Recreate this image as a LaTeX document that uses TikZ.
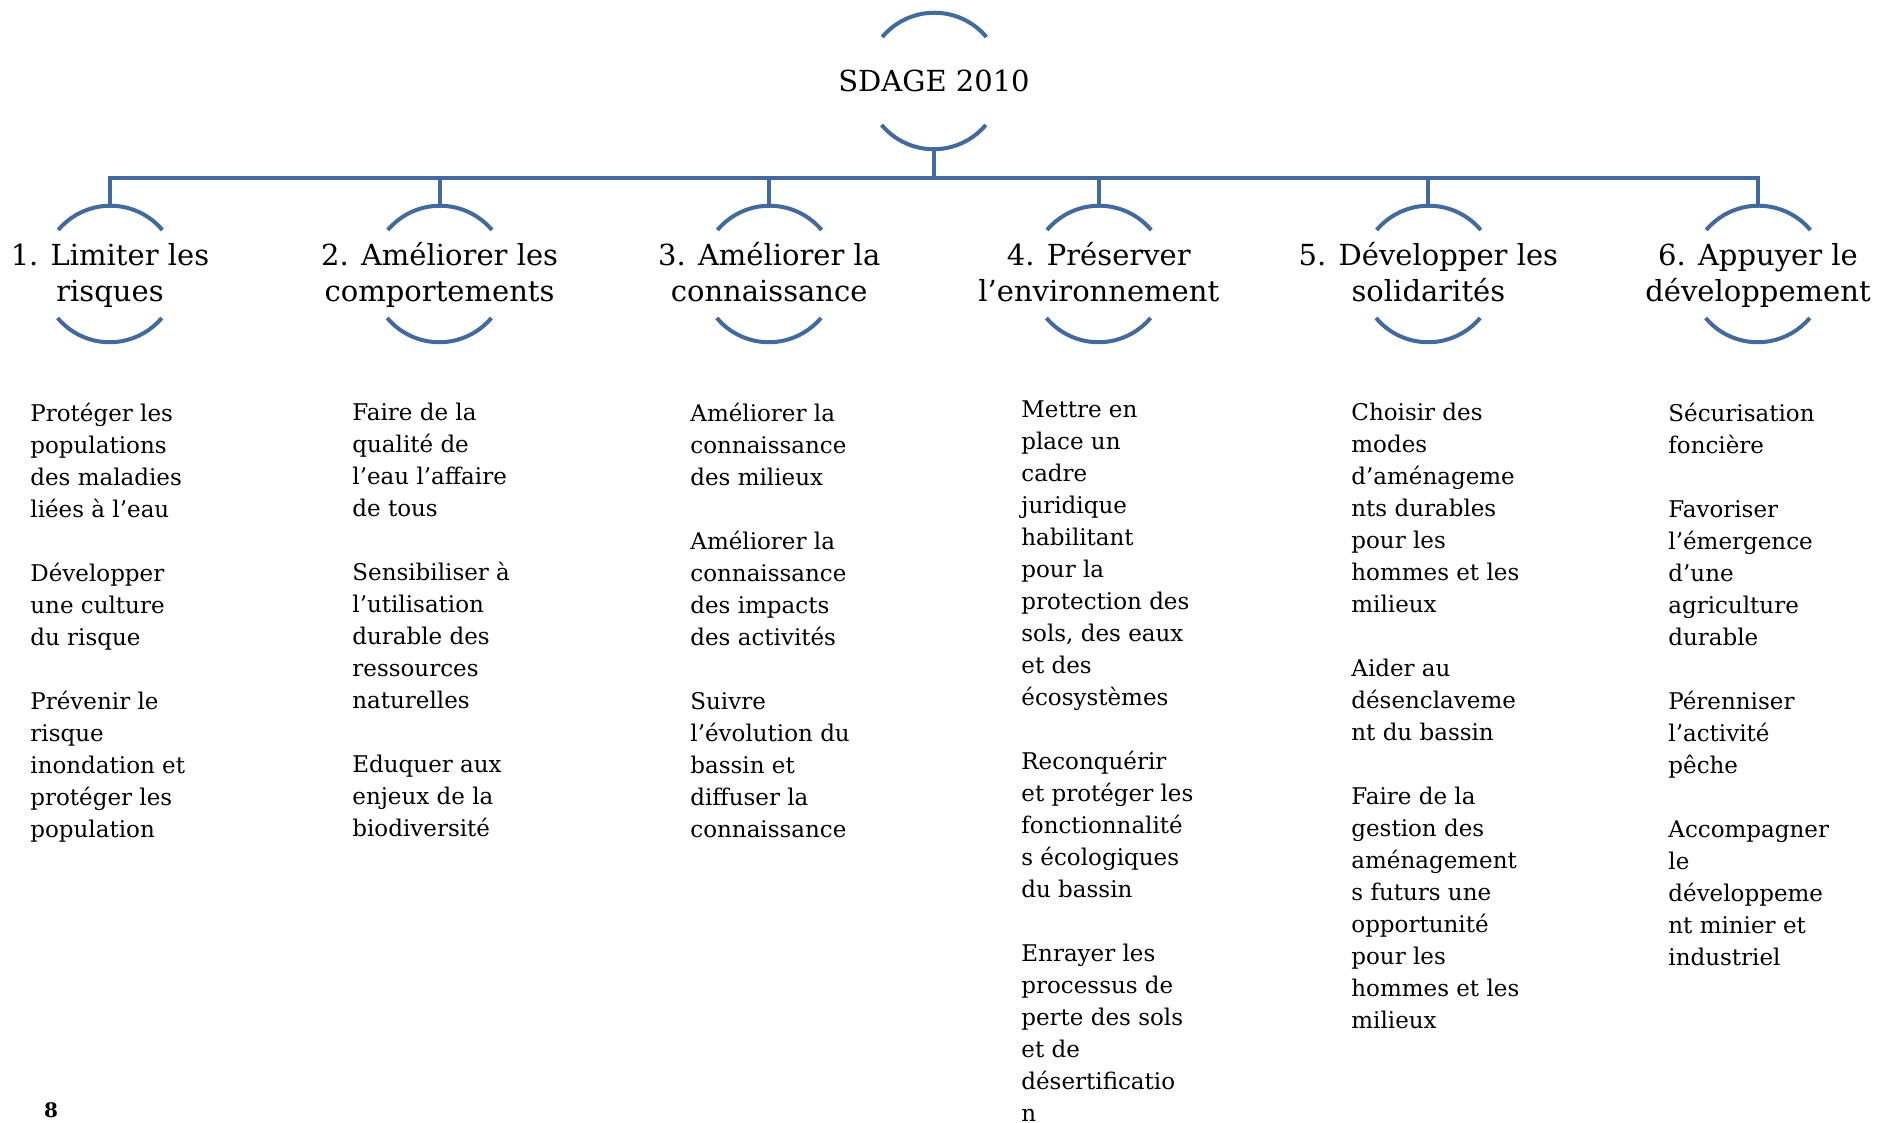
\documentclass[tikz,border=0pt]{standalone}
\usepackage{fontspec}
\setmainfont{DejaVu Serif}
\definecolor{lineblue}{RGB}{66,106,156}
\begin{document}
\begin{tikzpicture}[x=0.5pt,y=0.5pt,
  ring/.style={circle, minimum size=68pt, inner sep=0pt, draw=none},
  arcline/.style={draw=lineblue, line width=2pt},
  conn/.style={draw=lineblue, line width=2pt, line join=miter},
  head/.style={font=\fontsize{14.5}{18}\selectfont, align=center, inner sep=0pt, yshift=-1.2pt},
  body/.style={font=\fontsize{11.5}{16}\selectfont, align=left, anchor=north west, inner sep=0pt},
  pagenum/.style={font=\fontsize{10}{11}\selectfont\bfseries, inner sep=0pt}
]
\useasboundingbox (0,0) rectangle (1881,1123);

\node[ring] (root) at (934,1042) {};
\node[ring] (c1) at (110,849) {};
\node[ring] (c2) at (439.6,849) {};
\node[ring] (c3) at (769.2,849) {};
\node[ring] (c4) at (1098.8,849) {};
\node[ring] (c5) at (1428.4,849) {};
\node[ring] (c6) at (1758,849) {};

\foreach \n in {root,c1,c2,c3,c4,c5,c6} {
  \draw[arcline] (\n.40) arc[start angle=40,end angle=140,radius=34pt];
  \draw[arcline] (\n.220) arc[start angle=220,end angle=320,radius=34pt];
}

\node[head] (rootlbl) at (934,1041) {\strut SDAGE 2010};
\node[head] (l1) at (c1) {\strut 1. Limiter les\\\strut risques};
\node[head] (l2) at (c2) {\strut 2. Améliorer les\\\strut comportements};
\node[head] (l3) at (c3) {\strut 3. Améliorer la\\\strut connaissance};
\node[head] (l4) at (c4) {\strut 4. Préserver\\\strut l’environnement};
\node[head] (l5) at (c5) {\strut 5. Développer les\\\strut solidarités};
\node[head] (l6) at (c6) {\strut 6. Appuyer le\\\strut développement};

\coordinate (bar) at (934,945);
\draw[conn] (root.south) -- (bar);
\foreach \n in {c1,c2,c3,c4,c5,c6} {
  \draw[conn] (bar) -| (\n.north);
}

\node[body] (b1) at (30,720) {Protéger les\\populations\\des maladies\\liées à l’eau\\[16pt]Développer\\une culture\\du risque\\[16pt]Prévenir le\\risque\\inondation et\\protéger les\\population};
\node[body] (b2) at (352,720) {Faire de la\\qualité de\\l’eau l’affaire\\de tous\\[16pt]Sensibiliser à\\l’utilisation\\durable des\\ressources\\naturelles\\[16pt]Eduquer aux\\enjeux de la\\biodiversité};
\node[body] (b3) at (690,720) {Améliorer la\\connaissance\\des milieux\\[16pt]Améliorer la\\connaissance\\des impacts\\des activités\\[16pt]Suivre\\l’évolution du\\bassin et\\diffuser la\\connaissance};
\node[body] (b4) at (1021,723) {Mettre en\\place un\\cadre\\juridique\\habilitant\\pour la\\protection des\\sols, des eaux\\et des\\écosystèmes\\[16pt]Reconquérir\\et protéger les\\fonctionnalité\\s écologiques\\du bassin\\[16pt]Enrayer les\\processus de\\perte des sols\\et de\\désertificatio\\n};
\node[body] (b5) at (1351,720) {Choisir des\\modes\\d’aménageme\\nts durables\\pour les\\hommes et les\\milieux\\[16pt]Aider au\\désenclaveme\\nt du bassin\\[16pt]Faire de la\\gestion des\\aménagement\\s futurs une\\opportunité\\pour les\\hommes et les\\milieux};
\node[body] (b6) at (1668,720) {Sécurisation\\foncière\\[16pt]Favoriser\\l’émergence\\d’une\\agriculture\\durable\\[16pt]Pérenniser\\l’activité\\pêche\\[16pt]Accompagner\\le\\développeme\\nt minier et\\industriel};

\node[pagenum] (pg) at (51,13) {8};
\end{tikzpicture}
\end{document}
